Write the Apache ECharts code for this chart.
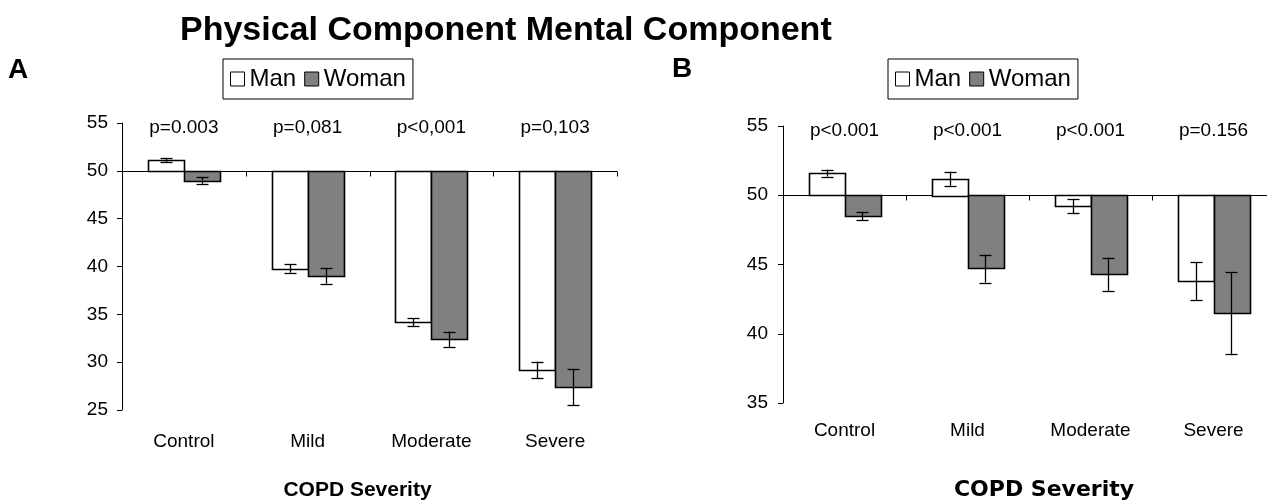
<!DOCTYPE html>
<html>
<head>
<meta charset="utf-8">
<script src="https://cdn.jsdelivr.net/npm/echarts@6/dist/echarts.min.js"></script>
<style>
  html, body { margin: 0; padding: 0; background: #fff; }
  #chart { width: 1267px; height: 500px; }
</style>
</head>
<body>
<div id="chart"></div>
<script>
// ---- Data ----
const categories = ['Control', 'Mild', 'Moderate', 'Severe'];
const seriesNames = ['Man', 'Woman'];

// Physical Component (A)
const physMan = [51.1, 39.8, 34.2, 29.2];
const physManErr = [0.2, 0.45, 0.4, 0.85];
const physWoman = [49.0, 39.0, 32.4, 27.4];
const physWomanErr = [0.35, 0.8, 0.8, 1.9];
const physP = ['p=0.003', 'p=0,081', 'p<0,001', 'p=0,103'];
const physTicks = { min: 25, max: 55, interval: 5 };

// Mental Component (B)
const mentMan = [51.6, 51.2, 49.2, 43.8];
const mentManErr = [0.25, 0.5, 0.5, 1.35];
const mentWoman = [48.5, 44.7, 44.3, 41.5];
const mentWomanErr = [0.3, 1.0, 1.2, 2.95];
const mentP = ['p<0.001', 'p<0.001', 'p<0.001', 'p=0.156'];
const mentTicks = { min: 35, max: 55, interval: 5 };

const baseline = 50;

// ---- Rendering ----
const FONT = "'Liberation Sans', Arial, Helvetica, sans-serif";
const chart = echarts.init(document.getElementById('chart'), null, { renderer: 'canvas' });

function px(v) { return Math.round(v) + 0.5; }

function barRender(side, fill) {
  return function (params, api) {
    const idx = api.value(0), val = api.value(1), err = api.value(2);
    const band = api.size([1, 0])[0];
    const w = band * 0.29;
    const c = api.coord([idx, baseline]);
    const p = api.coord([idx, val]);
    const x0 = side < 0 ? c[0] - w : c[0];
    const yTop = Math.min(c[1], p[1]);
    const h = Math.abs(c[1] - p[1]);
    const cx = px(x0 + w / 2);
    const hi = api.coord([idx, val + err])[1];
    const lo = api.coord([idx, val - err])[1];
    const cap = 6;
    const ls = { stroke: '#000', lineWidth: 1.3 };
    return {
      type: 'group',
      children: [
        { type: 'rect', shape: { x: Math.round(x0) + 0.5, y: Math.round(yTop) + 0.5, width: Math.round(w), height: Math.round(h) },
          style: { fill: fill, stroke: '#000', lineWidth: 1.6 } },
        { type: 'line', shape: { x1: cx, y1: hi, x2: cx, y2: lo }, style: ls },
        { type: 'line', shape: { x1: cx - cap, y1: px(hi), x2: cx + cap, y2: px(hi) }, style: ls },
        { type: 'line', shape: { x1: cx - cap, y1: px(lo), x2: cx + cap, y2: px(lo) }, style: ls }
      ]
    };
  };
}

function axisRender(labels) {
  return function (params, api) {
    const idx = api.value(0), top = api.value(1);
    const band = api.size([1, 0])[0];
    const c = api.coord([idx, baseline]);
    const y = px(c[1]);
    const t = api.coord([idx, top]);
    const right = px(c[0] + band / 2);
    return {
      type: 'group',
      children: [
        { type: 'line', shape: { x1: c[0] - band / 2, y1: y, x2: c[0] + band / 2, y2: y }, style: { stroke: '#000', lineWidth: 1 } },
        { type: 'line', shape: { x1: right, y1: y, x2: right, y2: y + 5 }, style: { stroke: '#000', lineWidth: 1 } },
        { type: 'text', x: c[0], y: t[1] + 5,
          style: { text: labels[idx], fill: '#000', font: '19px ' + FONT,
                   align: 'center', verticalAlign: 'middle', textAlign: 'center', textVerticalAlign: 'middle' } }
      ]
    };
  };
}

function toData(vals, errs) { return vals.map((v, i) => [i, v, errs[i]]); }

function legendFor(left) {
  return {
    left: left, top: 59,
    orient: 'horizontal',
    icon: 'rect',
    itemWidth: 14, itemHeight: 14, itemGap: 8,
    padding: [8, 7],
    borderColor: '#000', borderWidth: 1,
    selectedMode: false,
    textStyle: { fontSize: 24, color: '#000', fontFamily: FONT },
    data: [
      { name: 'Man', itemStyle: { color: '#ffffff', borderColor: '#000', borderWidth: 1 } },
      { name: 'Woman', itemStyle: { color: '#808080', borderColor: '#000', borderWidth: 1 } }
    ]
  };
}

function xAxisFor(gi, margin, nameGap, nameStyle) {
  return {
    gridIndex: gi, type: 'category', data: categories,
    axisLine: { show: false }, axisTick: { show: false },
    axisLabel: { color: '#000', fontSize: 19, margin: margin, fontFamily: FONT },
    name: 'COPD Severity', nameLocation: 'middle', nameGap: nameGap,
    nameTextStyle: nameStyle
  };
}

function yAxisFor(gi, ticks, margin) {
  return {
    gridIndex: gi, type: 'value', min: ticks.min, max: ticks.max, interval: ticks.interval,
    axisLine: { show: true, lineStyle: { color: '#000', width: 1 } },
    axisTick: { show: true, length: 5, lineStyle: { color: '#000' } },
    axisLabel: { color: '#000', fontSize: 19, margin: margin, fontFamily: FONT },
    splitLine: { show: false }
  };
}

const option = {
  animation: false,
  backgroundColor: '#fff',
  title: [
    { text: 'Physical Component Mental Component', left: 180, top: 14, padding: 0,
      textStyle: { fontSize: 34, fontWeight: 'bold', color: '#000', fontFamily: FONT } },
    { text: 'A', left: 8, top: 56, padding: 0, textStyle: { fontSize: 28, fontWeight: 'bold', color: '#000', fontFamily: FONT } },
    { text: 'B', left: 672, top: 55, padding: 0, textStyle: { fontSize: 28, fontWeight: 'bold', color: '#000', fontFamily: FONT } }
  ],
  legend: [legendFor(223), legendFor(888)],
  grid: [
    { left: 122, top: 123, width: 495, height: 287, outerBoundsMode: 'none', containLabel: false },
    { left: 783, top: 126, width: 492, height: 277, outerBoundsMode: 'none', containLabel: false }
  ],
  xAxis: [
    xAxisFor(0, 22, 70, { fontWeight: 'bold', fontSize: 21, color: '#000', fontFamily: FONT, padding: [0, 24, 0, 0] }),
    xAxisFor(1, 18, 76, { fontWeight: 'bold', fontSize: 22, color: '#000', fontFamily: "'DejaVu Sans', sans-serif", padding: [0, 0, 0, 30] })
  ],
  yAxis: [yAxisFor(0, physTicks, 14), yAxisFor(1, mentTicks, 15)],
  series: [
    { name: 'axisA', type: 'custom', xAxisIndex: 0, yAxisIndex: 0, z: 1, silent: true,
      renderItem: axisRender(physP), data: categories.map((c, i) => [i, physTicks.max]), encode: { x: 0, y: 1 } },
    { name: 'Man', type: 'custom', xAxisIndex: 0, yAxisIndex: 0, z: 2,
      itemStyle: { color: '#ffffff', borderColor: '#000' },
      renderItem: barRender(-1, '#ffffff'), data: toData(physMan, physManErr), encode: { x: 0, y: 1 } },
    { name: 'Woman', type: 'custom', xAxisIndex: 0, yAxisIndex: 0, z: 2,
      itemStyle: { color: '#808080', borderColor: '#000' },
      renderItem: barRender(1, '#808080'), data: toData(physWoman, physWomanErr), encode: { x: 0, y: 1 } },
    { name: 'axisB', type: 'custom', xAxisIndex: 1, yAxisIndex: 1, z: 1, silent: true,
      renderItem: axisRender(mentP), data: categories.map((c, i) => [i, mentTicks.max]), encode: { x: 0, y: 1 } },
    { name: 'Man', type: 'custom', xAxisIndex: 1, yAxisIndex: 1, z: 2,
      itemStyle: { color: '#ffffff', borderColor: '#000' },
      renderItem: barRender(-1, '#ffffff'), data: toData(mentMan, mentManErr), encode: { x: 0, y: 1 } },
    { name: 'Woman', type: 'custom', xAxisIndex: 1, yAxisIndex: 1, z: 2,
      itemStyle: { color: '#808080', borderColor: '#000' },
      renderItem: barRender(1, '#808080'), data: toData(mentWoman, mentWomanErr), encode: { x: 0, y: 1 } }
  ]
};

chart.setOption(option);
</script>
</body>
</html>
